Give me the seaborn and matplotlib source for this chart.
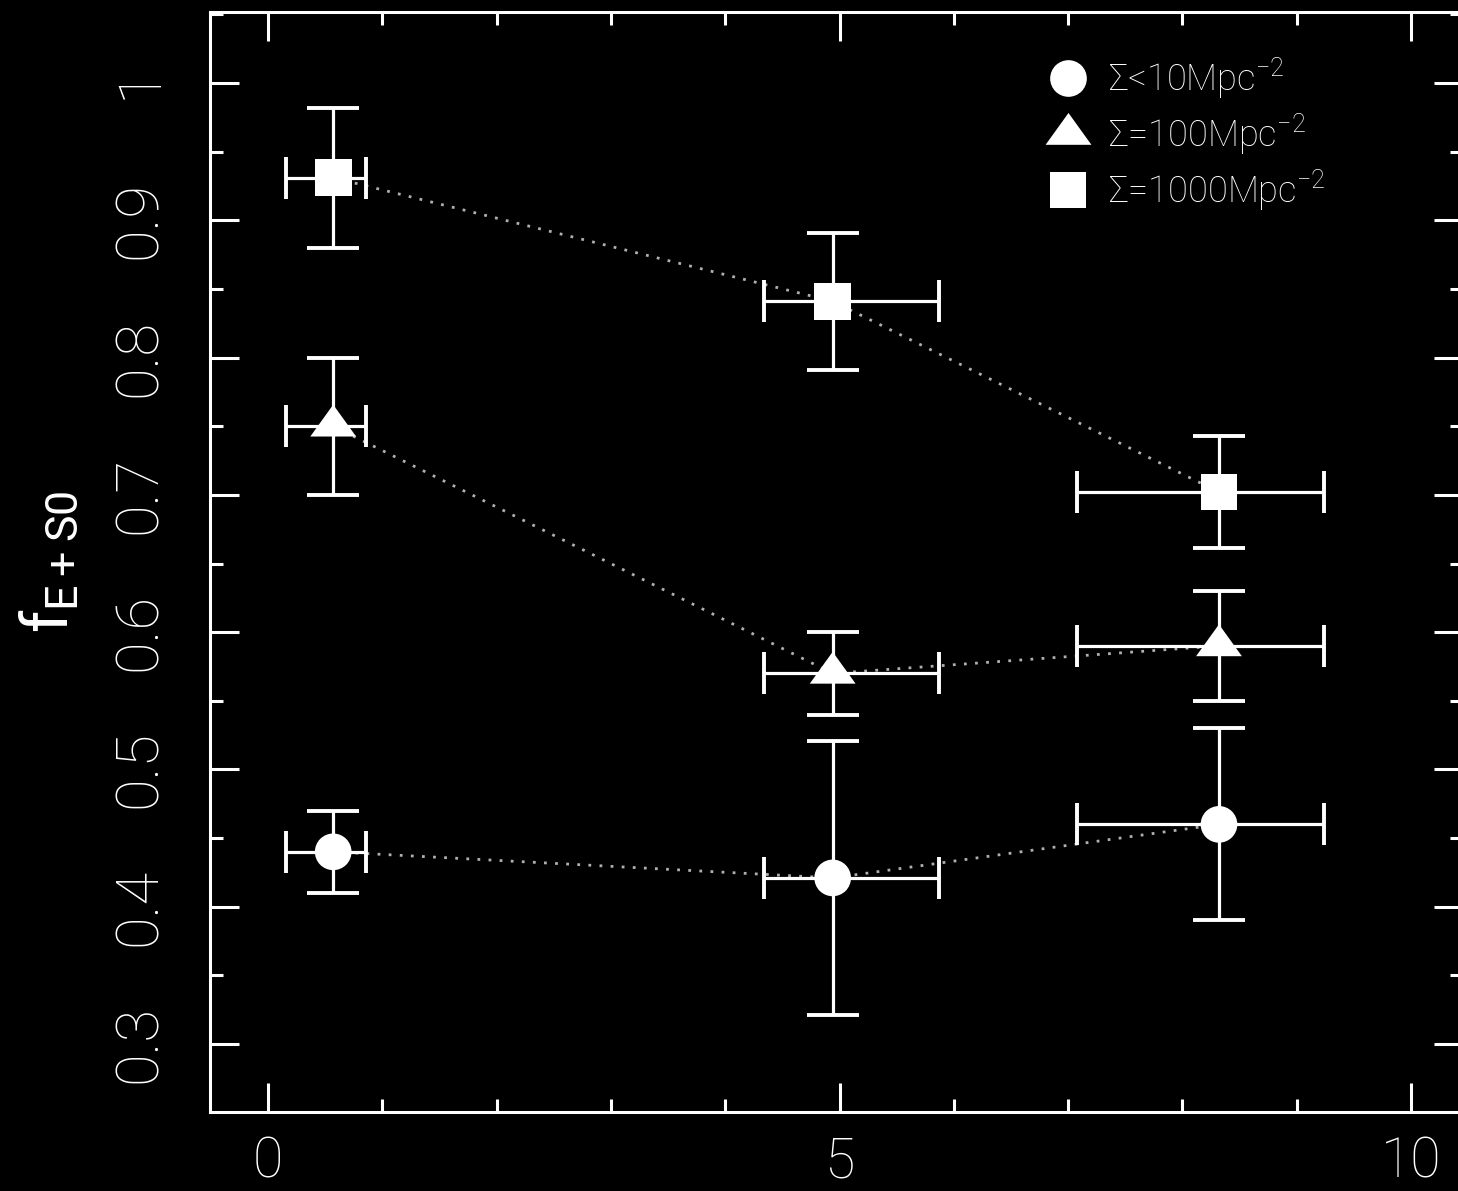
import numpy as np
import pandas as pd
import matplotlib
matplotlib.use("Agg")
import matplotlib.pyplot as plt
import seaborn as sns
from matplotlib.lines import Line2D
from matplotlib.ticker import MultipleLocator
from matplotlib.path import Path

# ---------------- data ----------------
groups = ["low", "mid", "high"]
legend_labels = ["Σ<10Mpc$^{-2}$", "Σ=100Mpc$^{-2}$", "Σ=1000Mpc$^{-2}$"]
x_pos = [0.57, 4.94, 8.32]
x_err_lo = [0.41, 0.60, 1.24]
x_err_hi = [0.29, 0.93, 0.92]
y_low = [0.440, 0.421, 0.460]
y_low_err = [0.030, 0.100, 0.070]
y_mid = [0.750, 0.570, 0.590]
y_mid_err = [0.050, 0.030, 0.040]
y_high = [0.931, 0.841, 0.702]
y_high_err = [0.051, 0.050, 0.041]
x_ticks = [0, 5, 10]
y_ticks = [0.3, 0.4, 0.5, 0.6, 0.7, 0.8, 0.9, 1.0]
y_tick_labels = ["0.3", "0.4", "0.5", "0.6", "0.7", "0.8", "0.9", "1"]

df = pd.DataFrame({
    "x": x_pos * 3,
    "y": y_low + y_mid + y_high,
    "yerr": y_low_err + y_mid_err + y_high_err,
    "xlo": x_err_lo * 3,
    "xhi": x_err_hi * 3,
    "group": [g for g in groups for _ in range(3)],
})

# ---------------- style ----------------
sns.set_theme(style="ticks")
plt.rcParams.update({
    "figure.facecolor": "black",
    "axes.facecolor": "black",
    "savefig.facecolor": "black",
    "axes.edgecolor": "white",
    "axes.labelcolor": "white",
    "text.color": "white",
    "xtick.color": "white",
    "ytick.color": "white",
    "axes.linewidth": 2.2,
    "mathtext.default": "regular",
})
plt.rcParams["font.family"] = ["Roboto", "DejaVu Sans"]
plt.rcParams["font.weight"] = "light"

tri_path = Path([(-1, -0.45), (1, -0.45), (0, 0.94), (-1, -0.45)],
                [Path.MOVETO, Path.LINETO, Path.LINETO, Path.CLOSEPOLY])
markers = {"low": "o", "mid": tri_path, "high": "s"}
msizes = {"low": 26.4, "mid": 33.0, "high": 26.4}

fig = plt.figure(figsize=(14.58, 11.91), dpi=100)
ax = fig.add_axes([210 / 1458, 79 / 1191, 1253 / 1458, 1100 / 1191])

# dotted connecting lines
sns.lineplot(data=df, x="x", y="y", units="group", estimator=None, sort=False,
             color="#b0b0b0", linestyle=(0, (1, 3.0)), linewidth=2.0, ax=ax,
             legend=False)

# error bars
ax.errorbar(df["x"], df["y"], yerr=df["yerr"], fmt="none", ecolor="white",
            elinewidth=2.3, capsize=18.4, capthick=2.8, zorder=3)
ax.errorbar(df["x"], df["y"], xerr=[df["xlo"], df["xhi"]], fmt="none",
            ecolor="white", elinewidth=2.3, capsize=14.8, capthick=2.8, zorder=3)

# markers
for g in groups:
    sub = df[df["group"] == g]
    sns.scatterplot(data=sub, x="x", y="y", marker=markers[g],
                    s=msizes[g] ** 2, color="white", edgecolor="none",
                    linewidth=0, ax=ax, zorder=4, legend=False)

# axes
ax.set_xlim(-0.508, 10.455)
ax.set_ylim(0.2505, 1.0517)
ax.set_xlabel("")
ax.set_ylabel("f$_{E+S0}$", fontsize=46, labelpad=22)
for s in ax.spines.values():
    s.set_visible(True)
    s.set_color("white")
    s.set_linewidth(2.2)

ax.set_xticks(x_ticks)
ax.set_xticklabels([str(t) for t in x_ticks])
ax.xaxis.set_minor_locator(MultipleLocator(1))
ax.set_yticks(y_ticks)
ax.set_yticklabels(y_tick_labels)
ax.yaxis.set_minor_locator(MultipleLocator(0.05))
ax.tick_params(which="both", direction="in", top=True, right=True,
               width=2.2, colors="white")
ax.tick_params(which="major", length=21)
ax.tick_params(which="minor", length=9.5)
ax.tick_params(axis="x", which="major", labelsize=40, pad=17)
ax.tick_params(axis="y", which="major", labelsize=43, pad=30)
for lab in ax.get_yticklabels():
    lab.set_rotation(90)
    lab.set_va("center")

# legend
handles = [Line2D([], [], marker=markers[g], markersize=msizes[g], color="white",
                  linestyle="none", markeredgewidth=0) for g in groups]
ax.legend(handles, legend_labels, loc="upper left",
          bbox_to_anchor=(0.6664, 0.9605), frameon=False, fontsize=26,
          handlelength=1.25, handletextpad=0.5, labelspacing=0.28,
          borderpad=0, borderaxespad=0)

fig.savefig("out.png", dpi=100, facecolor="black")
